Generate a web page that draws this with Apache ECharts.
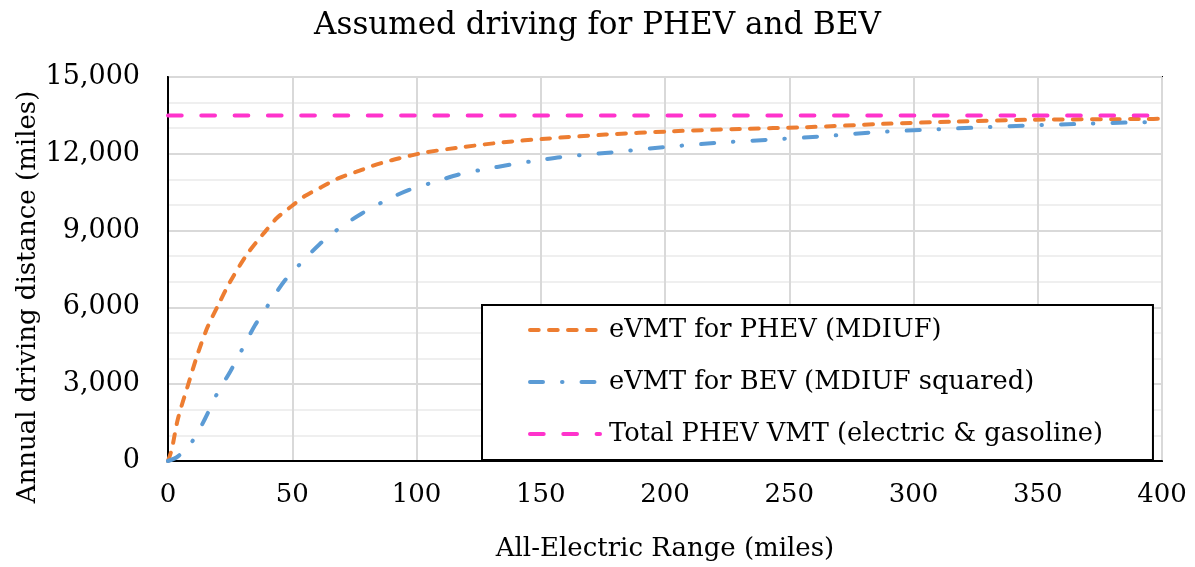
<!DOCTYPE html>
<html><head><meta charset="utf-8">
<script src="https://cdn.jsdelivr.net/npm/echarts@6/dist/echarts.min.js"></script>
<style>html,body{margin:0;padding:0;background:#fff}#c{width:1195px;height:567px}</style>
</head><body><div id="c"></div>
<script>
// All-electric range (miles) and annual eVMT (miles)
const phevRange = [0, 1.5, 4, 8, 12, 16, 20, 25, 32, 39, 43.7, 49.8, 55.1, 61.8, 68.5, 75.9, 82.6, 90, 98, 104, 116, 135, 152, 176, 203, 230, 257, 288, 317, 348, 394, 400];
const phevVmt   = [0, 450, 1650, 2950, 4200, 5250, 6050, 7000, 8100, 8950, 9480, 9960, 10350, 10700, 11040, 11300, 11540, 11750, 11940, 12060, 12230, 12450, 12590, 12750, 12880, 12970, 13040, 13170, 13260, 13330, 13360, 13370];
const bevRange = [0, 4, 10, 15, 19.6, 25, 30, 35, 40.6, 47, 53.5, 61, 69, 78, 87, 97, 107, 117, 127, 138, 148, 158, 179, 201, 221, 242, 263, 284, 305, 327, 347, 368, 390, 400];
const bevVmt   = [0, 180, 800, 1670, 2600, 3490, 4390, 5300, 6130, 7050, 7730, 8470, 9100, 9670, 10150, 10590, 10890, 11190, 11390, 11580, 11730, 11870, 12060, 12270, 12430, 12550, 12680, 12840, 12940, 13030, 13110, 13170, 13230, 13250];
const totalRange = [0, 400];
const totalVmt   = [13500, 13500];
const seriesNames = ['eVMT for PHEV (MDIUF)', 'eVMT for BEV (MDIUF squared)', 'Total PHEV VMT (electric & gasoline)'];
const xTicks = [0, 50, 100, 150, 200, 250, 300, 350, 400];
const yTicks = [0, 3000, 6000, 9000, 12000, 15000];
const yTitle = 'Annual driving distance (miles)';

const zip = (a, b) => a.map((v, i) => [v, b[i]]);
const FONT = 'DejaVu Serif';
const chart = echarts.init(document.getElementById('c'));
chart.setOption({
  animation: false,
  backgroundColor: '#fff',
  textStyle: { fontFamily: FONT, color: '#000' },
  title: {
    text: 'Assumed driving for PHEV and BEV', left: 'center', top: 5,
    textStyle: { fontFamily: FONT, fontSize: 31, fontWeight: 'normal', color: '#000' }
  },
  graphic: [{
    type: 'text', x: 28, y: 297, rotation: Math.PI / 2,
    style: { text: yTitle, fontFamily: FONT, fontSize: 26, fill: '#000', align: 'center', verticalAlign: 'middle' }
  }],
  grid: { left: 168, right: 33, top: 77, bottom: 104, show: true, borderColor: '#000', borderWidth: 2 },
  xAxis: {
    type: 'value', min: xTicks[0], max: xTicks[xTicks.length - 1], interval: 50,
    name: 'All-Electric Range (miles)', nameLocation: 'middle', nameGap: 75,
    nameTextStyle: { fontFamily: FONT, fontSize: 26, color: '#000' },
    axisLine: { show: true, lineStyle: { color: '#000', width: 2 } },
    axisTick: { show: false },
    axisLabel: { fontFamily: FONT, fontSize: 26, color: '#000', margin: 21 },
    splitLine: { show: true, lineStyle: { color: '#d9d9d9', width: 2 } }
  },
  yAxis: {
    type: 'value', min: yTicks[0], max: yTicks[yTicks.length - 1], interval: 3000,
    axisLine: { show: true, lineStyle: { color: '#000', width: 2 } },
    axisTick: { show: false },
    axisLabel: { fontFamily: FONT, fontSize: 27, color: '#000', margin: 28,
      formatter: v => v.toLocaleString('en-US') },
    splitLine: { show: true, lineStyle: { color: '#d9d9d9', width: 2 } },
    minorTick: { show: false, splitNumber: 3 },
    minorSplitLine: { show: true, lineStyle: { color: '#efefef', width: 2 } }
  },
  legend: {
    orient: 'vertical', left: 482, top: 305,
    padding: [10, 50, 11, 46],
    backgroundColor: '#fff', borderColor: '#000', borderWidth: 2,
    itemWidth: 70, itemHeight: 14, itemGap: 22,
    itemStyle: { opacity: 0 },
    lineStyle: { width: 4, cap: 'round' },
    textStyle: { fontFamily: FONT, fontSize: 25.7, color: '#000', lineHeight: 30, padding: [0, 0, 0, 4] },
    data: seriesNames
  },
  series: [
    { name: seriesNames[0], type: 'line', data: zip(phevRange, phevVmt), smooth: 0.3, showSymbol: false, symbol: 'none',
      lineStyle: { color: '#ED7D31', width: 4, type: [8.7, 10.3], cap: 'round' }, itemStyle: { color: '#ED7D31' }, z: 3 },
    { name: seriesNames[1], type: 'line', data: zip(bevRange, bevVmt), smooth: 0.3, showSymbol: false, symbol: 'none',
      lineStyle: { color: '#5B9BD5', width: 4, type: [13, 19, 0.5, 19], cap: 'round' }, itemStyle: { color: '#5B9BD5' }, z: 3 },
    { name: seriesNames[2], type: 'line', data: zip(totalRange, totalVmt), showSymbol: false, symbol: 'none',
      lineStyle: { color: '#FF33CC', width: 4, type: [13.7, 19.6], cap: 'round' }, itemStyle: { color: '#FF33CC' }, z: 3 }
  ]
});
</script></body></html>
